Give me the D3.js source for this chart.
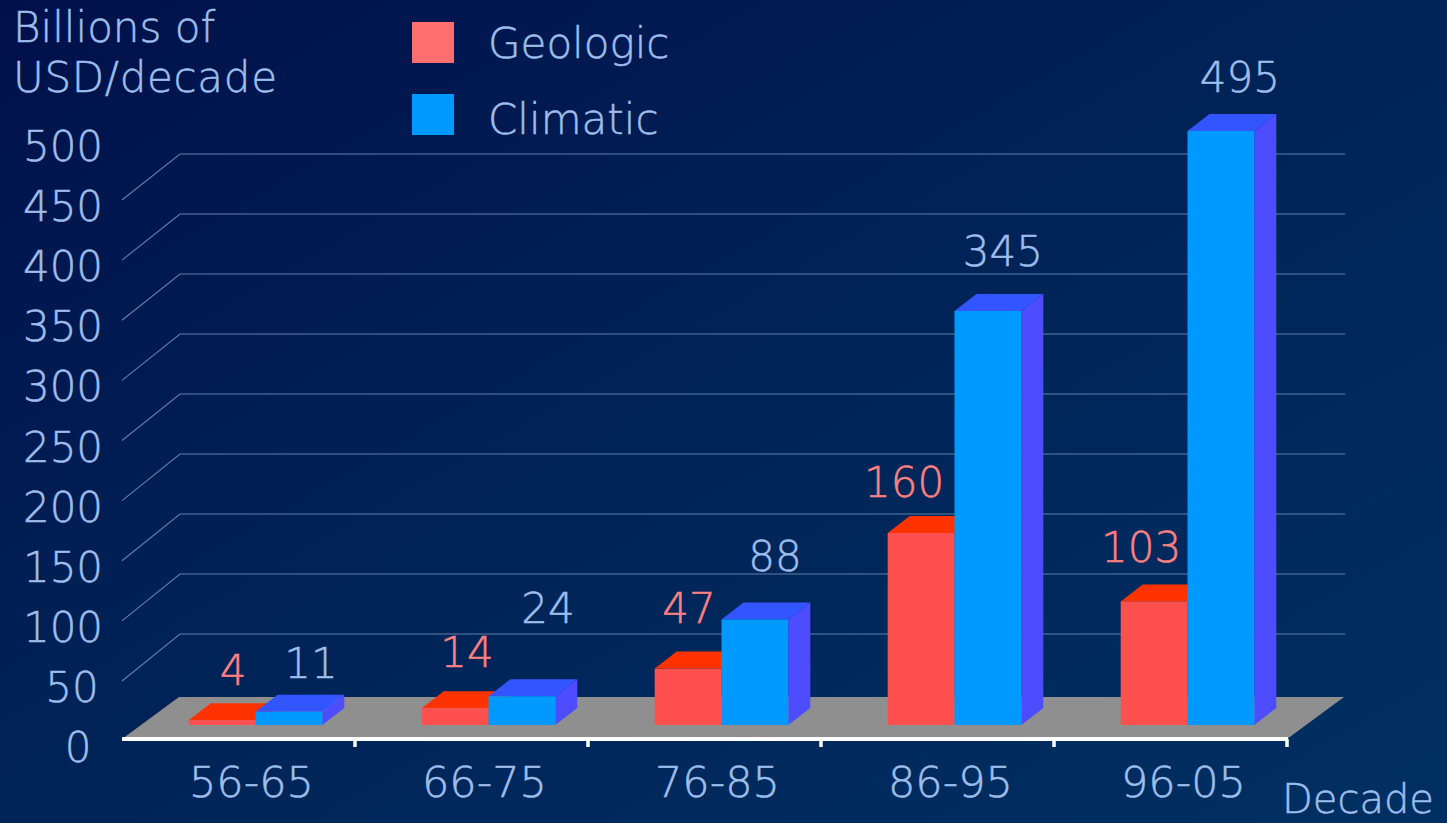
<!DOCTYPE html>
<html>
<head>
<meta charset="utf-8">
<script src="https://cdn.jsdelivr.net/npm/d3@7"></script>
<style>
html,body{margin:0;padding:0;background:#002a5f;overflow:hidden}
text{font-family:"DejaVu Sans",sans-serif;font-weight:200;stroke-width:0.5;paint-order:stroke}
</style>
</head>
<body>
<svg id="chart" width="1447" height="823"></svg>
<script>
const categories = ["56-65","66-75","76-85","86-95","96-05"];
const seriesNames = ["Geologic","Climatic"];
const geologic = [4,14,47,160,103];
const climatic = [11,24,88,345,495];
const yTicks = [0,50,100,150,200,250,300,350,400,450,500];
const gridValues = [50,100,150,200,250,300,350,400,450];

// label offsets (dx, dy) from the bar's top-centre, as hand-placed on the slide
const geologicNudge = [[11,-35],[12,-41],[1,-46],[-17,-36],[-13,-39]];
const climaticNudge = [[22,-34],[26,-73],[20,-48],[15,-45],[19,-39]];

const W = 1447, H = 823;
const svg = d3.select("#chart").attr("viewBox",[0,0,W,H]);
const defs = svg.append("defs");
const bg = defs.append("linearGradient").attr("id","bg")
  .attr("x1","0").attr("y1","0").attr("x2","1").attr("y2","1");
bg.append("stop").attr("offset","0").attr("stop-color","#00104a");
bg.append("stop").attr("offset","0.45").attr("stop-color","#002256");
bg.append("stop").attr("offset","1").attr("stop-color","#003063");
svg.append("rect").attr("width",W).attr("height",H).attr("fill","url(#bg)");

const textColor = "#9dbdea", pinkText = "#ff8080";
const fontSize = 42;

const x = d3.scaleBand().domain(categories).range([122,1287]);
const xs = d3.scaleBand().domain(seriesNames).range([66.7,200.3]);
const yBar = d3.scaleLinear().domain([0,500]).range([725,125]);
const yFront = d3.scaleLinear().domain([50,450]).range([681,200]);
const yBack = d3.scaleLinear().domain([50,450]).range([634,154]);
const yLabel = d3.scaleLinear().domain([0,500]).range([762,161]);
const depthX = 22, depthY = 17;
const floorDX = 57;
const axisY = 739, floorBackY = 697;

// floor
svg.append("polygon").attr("fill","#8f8f8f")
  .attr("points",[[122,axisY],[1287,axisY],[1287+floorDX,floorBackY],[122+floorDX,floorBackY]].join(" "));

// gridlines
const grid = svg.append("g").attr("fill","none").attr("stroke","#5f80a8").attr("stroke-width",1.1);
grid.selectAll("path").data(gridValues).join("path")
  .attr("d",v=>d3.line()([[122,yFront(v)],[180,yBack(v)],[1345,yBack(v)]]));

// bars
const rows = [
  {name:"Geologic",values:geologic,nudge:geologicNudge,front:"#ff5050",top:"#ff3300",side:"#ff3300",label:pinkText},
  {name:"Climatic",values:climatic,nudge:climaticNudge,front:"#0099ff",top:"#3355ff",side:"#4d4dff",label:textColor}
];
const bars = svg.append("g");
categories.forEach((c,i)=>{
  rows.forEach(s=>{
    const x0 = x(c)+xs(s.name), w = xs.bandwidth(), yt = yBar(s.values[i]), yb = yBar(0);
    const g = bars.append("g");
    g.append("polygon").attr("fill",s.side)
      .attr("points",[[x0+w,yt],[x0+w+depthX,yt-depthY],[x0+w+depthX,yb-depthY],[x0+w,yb]].join(" "));
    g.append("polygon").attr("fill",s.top)
      .attr("points",[[x0,yt],[x0+depthX,yt-depthY],[x0+w+depthX,yt-depthY],[x0+w,yt]].join(" "));
    g.append("rect").attr("x",x0).attr("y",yt).attr("width",w).attr("height",yb-yt).attr("fill",s.front);
  });
});

// value labels
rows.forEach(s=>{
  svg.append("g").selectAll("text").data(s.values).join("text")
    .attr("x",(d,i)=>x(categories[i])+xs(s.name)+xs.bandwidth()/2+s.nudge[i][0])
    .attr("y",(d,i)=>yBar(d)+s.nudge[i][1])
    .attr("text-anchor","middle").attr("font-size",fontSize).attr("fill",s.label).attr("stroke",s.label)
    .text(d=>d);
});

// x axis
const axis = svg.append("g").attr("stroke","#fff");
axis.append("line").attr("x1",122).attr("x2",1288).attr("y1",axisY).attr("y2",axisY).attr("stroke-width",4);
axis.selectAll("line.t").data(categories.slice(1).map(c=>x(c)).concat([x.range()[1]])).join("line")
  .attr("class","t").attr("x1",d=>d).attr("x2",d=>d).attr("y1",axisY).attr("y2",axisY+8).attr("stroke-width",3.5);

svg.append("g").selectAll("text").data(categories).join("text")
  .attr("x",c=>x(c)+x.bandwidth()/2+13).attr("y",797)
  .attr("text-anchor","middle").attr("font-size",43).attr("fill",textColor).attr("stroke",textColor).text(c=>c);

// y tick labels
svg.append("g").selectAll("text").data(yTicks).join("text")
  .attr("x",v=>String(v).length===3?63:(String(v).length===2?72:78))
  .attr("y",v=>yLabel(v))
  .attr("text-anchor","middle").attr("font-size",fontSize).attr("fill",textColor).attr("stroke",textColor).text(v=>v);

// titles
const label = (t,px,py,size)=>svg.append("text").attr("x",px).attr("y",py).attr("font-size",size)
  .attr("fill",textColor).attr("stroke",textColor).text(t);
label("Billions of",13,42,fontSize);
label("USD/decade",13,92,fontSize).attr("textLength",264);
label("Decade",1282,813,40);

// legend
const legend = [{n:seriesNames[0],c:"#ff6f6f",y:22,b:58},{n:seriesNames[1],c:"#0099ff",y:94,b:134}];
legend.forEach(l=>{
  svg.append("rect").attr("x",412).attr("y",l.y).attr("width",42).attr("height",41).attr("fill",l.c);
  label(l.n,488,l.b,fontSize);
});
</script>
</body>
</html>
